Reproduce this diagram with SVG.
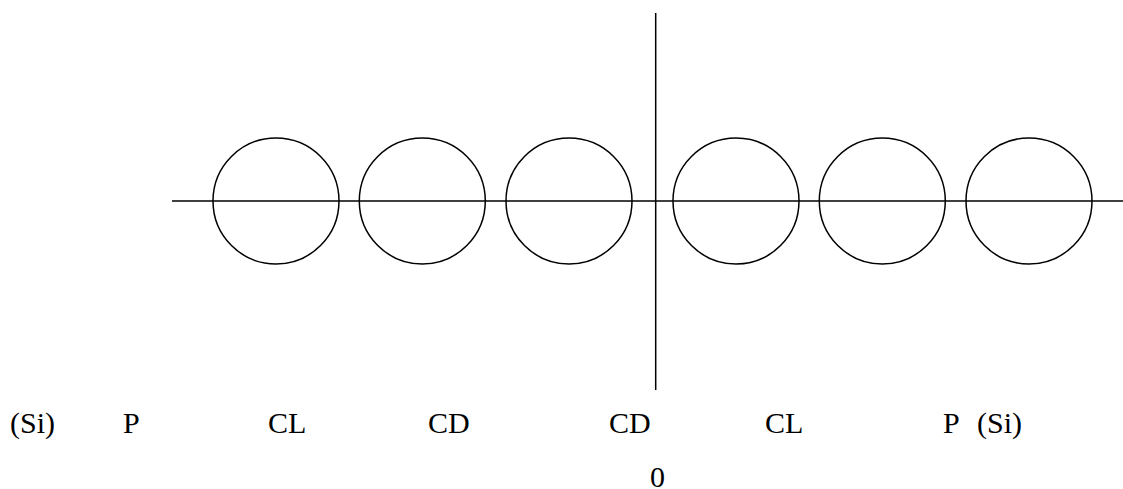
<svg xmlns="http://www.w3.org/2000/svg" width="1123" height="489" viewBox="0 0 1123 489">
<style>
.c{fill:none;stroke:#000;stroke-width:1.5}
.l{stroke:#000;stroke-width:1.5}
text{font-family:"Liberation Serif","Times New Roman",serif;font-size:30px;fill:#000}
</style>
<rect width="1123" height="489" fill="#fff"/>
<g id="connectors">
<line class="l" x1="172" y1="201" x2="1123" y2="201"/>
<line class="l" x1="655.7" y1="13" x2="655.7" y2="390"/>
</g>
<g id="c1"><circle class="c" cx="276" cy="201" r="63"/></g>
<g id="c2"><circle class="c" cx="422.3" cy="201" r="63"/></g>
<g id="c3"><circle class="c" cx="569" cy="201" r="63"/></g>
<g id="c4"><circle class="c" cx="736" cy="201" r="63"/></g>
<g id="c5"><circle class="c" cx="882.3" cy="201" r="63"/></g>
<g id="c6"><circle class="c" cx="1029" cy="201" r="63"/></g>
<g id="labels">
<text x="10" y="433">(Si)</text>
<text x="123" y="433">P</text>
<text x="268" y="433">CL</text>
<text x="428" y="433">CD</text>
<text x="609" y="433">CD</text>
<text x="765" y="433">CL</text>
<text x="943" y="433">P</text>
<text x="977" y="433">(Si)</text>
<text x="650" y="487">0</text>
</g>
</svg>
